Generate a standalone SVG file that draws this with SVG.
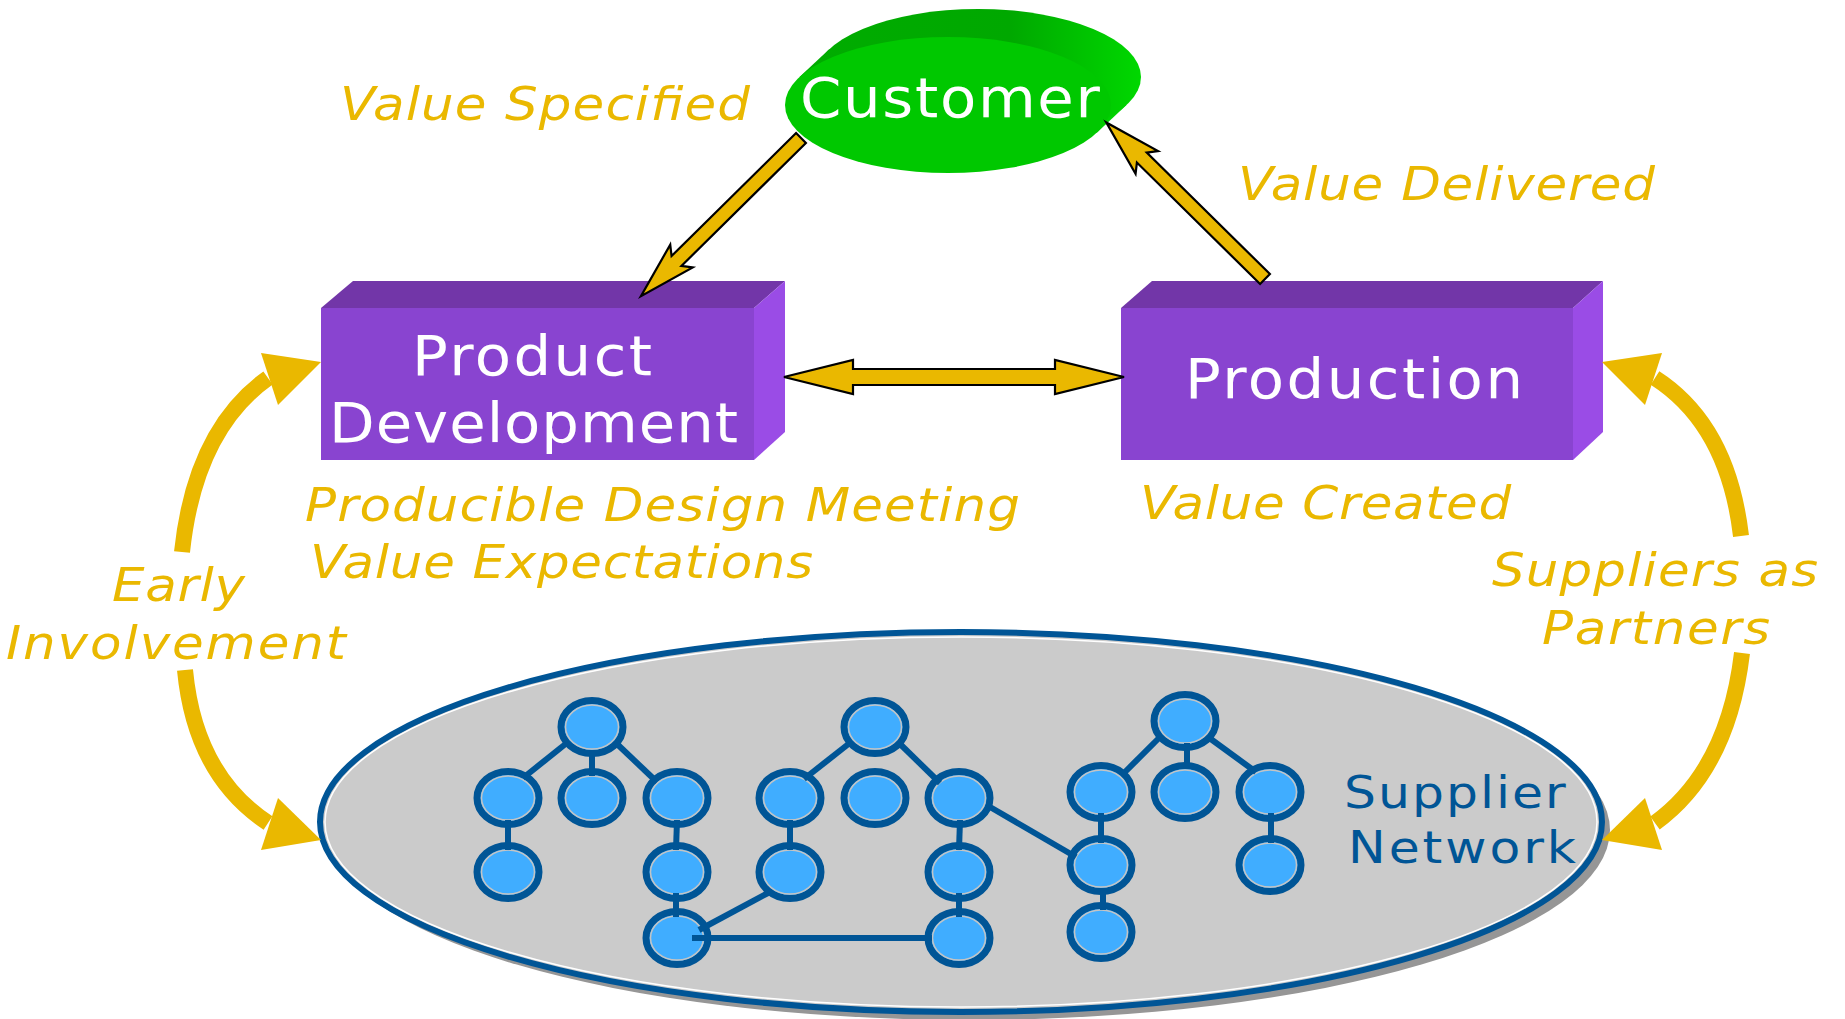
<svg xmlns="http://www.w3.org/2000/svg" width="1845" height="1019" viewBox="0 0 1845 1019">
<defs>
<style>
.lbl{font-family:"DejaVu Sans","Liberation Sans",sans-serif;font-style:italic;font-size:46px;fill:#eab800}
.box{font-family:"DejaVu Sans","Liberation Sans",sans-serif;font-size:56px;fill:#ffffff}
.net{font-family:"DejaVu Sans","Liberation Sans",sans-serif;font-size:45px;fill:#005596}
.blk{fill:#eab800;stroke:#000;stroke-width:2.2;stroke-linejoin:miter}
.curve{fill:none;stroke:#eab800;stroke-width:16}
.head{fill:#eab800}
.link{stroke:#005596;stroke-width:6;fill:none}
.nd{fill:#40adff;stroke:#005596;stroke-width:7}
.ring{fill:none;stroke:#c4c4c4;stroke-width:1.5}
</style>
<linearGradient id="gext" x1="0" y1="0" x2="1" y2="0">
<stop offset="0" stop-color="#00ac00"/>
<stop offset="0.6" stop-color="#00a800"/>
<stop offset="1" stop-color="#00d800"/>
</linearGradient>
<g id="node"><ellipse class="nd" rx="31" ry="26.5"/><ellipse class="ring" rx="26.5" ry="22"/></g>
</defs>
<rect width="1845" height="1019" fill="#ffffff"/>

<!-- Supplier network -->
<g id="supplier-network">
<ellipse cx="969" cy="830" rx="641" ry="190" fill="#969696"/>
<ellipse cx="961" cy="822" rx="641" ry="190" fill="#cbcbcb" stroke="#005596" stroke-width="6"/>
<ellipse cx="961" cy="822" rx="636" ry="185" fill="none" stroke="#ffffff" stroke-width="1.5"/>
<text class="net" transform="scale(1.12,1)" x="1200" y="808" textLength="198" lengthAdjust="spacing">Supplier</text>
<text class="net" transform="scale(1.12,1)" x="1203.6" y="863" textLength="203.6" lengthAdjust="spacing">Network</text>
</g>

<!-- network nodes -->
<g id="network-nodes">
<use href="#node" x="592" y="727"/>
<use href="#node" x="508" y="798"/>
<use href="#node" x="592" y="798"/>
<use href="#node" x="677" y="798"/>
<use href="#node" x="508" y="872"/>
<use href="#node" x="677" y="872"/>
<use href="#node" x="677" y="938"/>
<use href="#node" x="875" y="727"/>
<use href="#node" x="790" y="798"/>
<use href="#node" x="875" y="798"/>
<use href="#node" x="959" y="798"/>
<use href="#node" x="790" y="872"/>
<use href="#node" x="959" y="872"/>
<use href="#node" x="959" y="938"/>
<use href="#node" x="1185" y="721"/>
<use href="#node" x="1101" y="792"/>
<use href="#node" x="1185" y="792"/>
<use href="#node" x="1270" y="792"/>
<use href="#node" x="1101" y="865"/>
<use href="#node" x="1270" y="865"/>
<use href="#node" x="1101" y="932"/>
</g>
<g id="network-links">
<line class="link" x1="568" y1="742" x2="523" y2="778"/>
<line class="link" x1="592" y1="750" x2="592" y2="776"/>
<line class="link" x1="616" y1="743" x2="657" y2="782"/>
<line class="link" x1="508" y1="820" x2="508" y2="850"/>
<line class="link" x1="677" y1="820" x2="676" y2="850"/>
<line class="link" x1="676" y1="893" x2="676" y2="917"/>
<line class="link" x1="699" y1="930" x2="768" y2="893"/>
<line class="link" x1="692" y1="938" x2="932" y2="938" stroke-width="8"/>
<line class="link" x1="851" y1="742" x2="804" y2="779"/>
<line class="link" x1="899" y1="743" x2="940" y2="783"/>
<line class="link" x1="790" y1="820" x2="790" y2="850"/>
<line class="link" x1="960" y1="820" x2="959" y2="850"/>
<line class="link" x1="959" y1="893" x2="959" y2="917"/>
<line class="link" x1="990" y1="807" x2="1076" y2="857"/>
<line class="link" x1="1162" y1="735" x2="1122" y2="775"/>
<line class="link" x1="1187" y1="743" x2="1187" y2="768"/>
<line class="link" x1="1208" y1="737" x2="1256" y2="772"/>
<line class="link" x1="1101" y1="813" x2="1101" y2="843"/>
<line class="link" x1="1271" y1="813" x2="1271" y2="843"/>
<line class="link" x1="1103" y1="888" x2="1103" y2="910"/>
</g>

<!-- Customer -->
<g id="customer">
<path d="M799.2,77.2 L829.2,49.2 L1126.8,104.8 L1096.8,132.8 Z" fill="url(#gext)"/>
<ellipse cx="978" cy="77" rx="163" ry="68" fill="url(#gext)"/>
<ellipse cx="948" cy="105" rx="163" ry="68" fill="#00c800"/>
<text class="box" transform="scale(1.06,1)" x="754.7" y="117" textLength="283" lengthAdjust="spacing">Customer</text>
</g>

<!-- Product Development -->
<g id="product-development">
<polygon points="321,308 353,281 785,281 754,308" fill="#7236a8"/>
<polygon points="754,308 785,281 785,432 754,460" fill="#9a4ce6"/>
<rect x="321" y="308" width="433" height="152" fill="#8944d0"/>
<text class="box" transform="scale(1.06,1)" x="388.7" y="375" textLength="226.4" lengthAdjust="spacing">Product</text>
<text class="box" transform="scale(1.06,1)" x="310.4" y="442" textLength="385.8" lengthAdjust="spacing">Development</text>
</g>

<!-- Production -->
<g id="production">
<polygon points="1121,308 1152,281 1603,281 1573,308" fill="#7236a8"/>
<polygon points="1573,308 1603,281 1603,432 1573,460" fill="#9a4ce6"/>
<rect x="1121" y="308" width="452" height="152" fill="#8944d0"/>
<text class="box" transform="scale(1.06,1)" x="1117.9" y="398" textLength="318.9" lengthAdjust="spacing">Production</text>
</g>

<!-- connectors -->
<g id="connectors">
<g transform="translate(801,138) rotate(135.35)">
<polygon class="blk" points="0,-7 175,-7 168,-16 225,0 168,16 175,7 0,7"/>
</g>
<g transform="translate(1265,279) rotate(-135.4)">
<polygon class="blk" points="0,-7 173,-7 166,-16 223,0 166,16 173,7 0,7"/>
</g>
<polygon class="blk" points="784,377 853,360 853,369 1055,369 1055,360 1124,377 1055,394 1055,385 853,385 853,394"/>

<path class="curve" d="M182,552 Q195,430 268,378"/>
<polygon class="head" points="321,362 261,353 278,405"/>
<path class="curve" d="M185,670 Q195,775 268,823"/>
<polygon class="head" points="321,840 261,850 278,798"/>

<path class="curve" d="M1741,536 Q1728,425 1655,378"/>
<polygon class="head" points="1602,362 1662,353 1645,405"/>
<path class="curve" d="M1742,653 Q1728,770 1655,823"/>
<polygon class="head" points="1602,840 1662,850 1645,798"/>
</g>

<!-- labels -->
<g id="labels">
<text class="lbl" transform="scale(1.12,1)" x="303.6" y="120" textLength="366.1" lengthAdjust="spacing">Value Specified</text>
<text class="lbl" transform="scale(1.12,1)" x="1105.4" y="200" textLength="372.3" lengthAdjust="spacing">Value Delivered</text>
<text class="lbl" transform="scale(1.12,1)" x="272.3" y="521" textLength="638.4" lengthAdjust="spacing">Producible Design Meeting</text>
<text class="lbl" transform="scale(1.12,1)" x="276.8" y="578" textLength="449.1" lengthAdjust="spacing">Value Expectations</text>
<text class="lbl" transform="scale(1.12,1)" x="1017.9" y="519" textLength="331.3" lengthAdjust="spacing">Value Created</text>
<text class="lbl" transform="scale(1.12,1)" x="100" y="601" textLength="118.75" lengthAdjust="spacing">Early</text>
<text class="lbl" transform="scale(1.12,1)" x="5.36" y="659" textLength="303.6" lengthAdjust="spacing">Involvement</text>
<text class="lbl" transform="scale(1.12,1)" x="1332.1" y="586" textLength="291.1" lengthAdjust="spacing">Suppliers as</text>
<text class="lbl" transform="scale(1.12,1)" x="1376.8" y="644" textLength="203.6" lengthAdjust="spacing">Partners</text>
</g>
</svg>
